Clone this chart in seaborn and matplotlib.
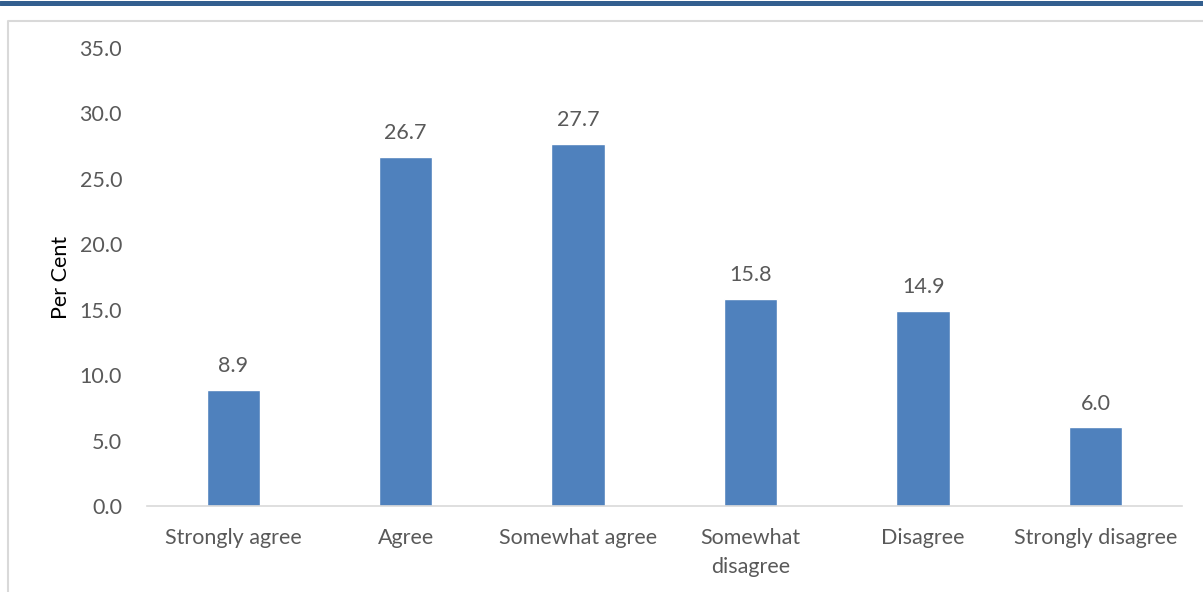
import matplotlib
matplotlib.use("Agg")
import matplotlib.pyplot as plt
import seaborn as sns
import pandas as pd
from matplotlib.lines import Line2D

# --- data ---
categories = ["Strongly agree", "Agree", "Somewhat agree",
              "Somewhat\ndisagree", "Disagree", "Strongly disagree"]
values = [8.9, 26.7, 27.7, 15.8, 14.9, 6.0]

BAR_COLOR = "#4f81bd"
TEXT_COLOR = "#595959"
FS = 15.5

sns.set_theme(style="white")
plt.rcParams['font.family'] = ['Lato', 'DejaVu Sans']

df = pd.DataFrame({"category": categories, "value": values})

fig = plt.figure(figsize=(12.03, 5.92), dpi=100)
ax = fig.add_axes([0.1222, 0.1453, 0.8603, 0.7736])

sns.barplot(data=df, x="category", y="value", color=BAR_COLOR,
            width=0.31, saturation=1, ax=ax)

# data labels
for p, v in zip(ax.patches, values):
    ax.annotate(f"{v:.1f}", (p.get_x() + p.get_width() / 2, p.get_height()),
                xytext=(0, 10), textcoords="offset points",
                ha="center", va="bottom", fontsize=FS, color=TEXT_COLOR)

ax.set_ylim(0, 35)
ax.set_yticks([0, 5, 10, 15, 20, 25, 30, 35])
ax.set_yticklabels([f"{t:.1f}" for t in range(0, 40, 5)])
ax.set_xlim(-0.5, len(categories) - 0.5)

for s in ["top", "right", "left"]:
    ax.spines[s].set_visible(False)
ax.spines["bottom"].set_color("#d9d9d9")
ax.spines["bottom"].set_linewidth(1.2)

ax.tick_params(axis="both", length=0, labelsize=FS, colors=TEXT_COLOR)
ax.tick_params(axis="y", pad=18)
ax.tick_params(axis="x", pad=16)
for lbl in ax.get_xticklabels():
    lbl.set_linespacing(1.55)
ax.set_xlabel("")
ax.set_ylabel("Per Cent", fontsize=FS, color="black", labelpad=6)

# decorative frame: blue rule on top and grey chart border
fig.add_artist(Line2D([0, 1], [1 - 2.5 / 592, 1 - 2.5 / 592],
                      transform=fig.transFigure, color="#335f8f", linewidth=3.6))
fig.add_artist(Line2D([8 / 1203, 8 / 1203, 1], [0, 1 - 20.5 / 592, 1 - 20.5 / 592],
                      transform=fig.transFigure, color="#d9d9d9", linewidth=1.5))

fig.savefig("out.png", dpi=100, facecolor="white")
